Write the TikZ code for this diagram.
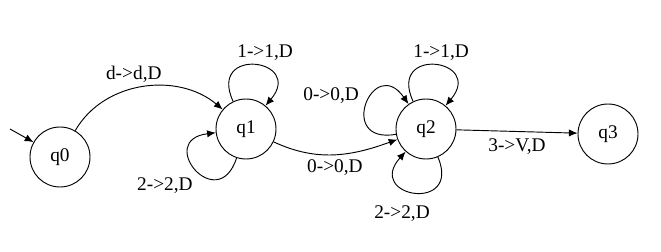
\documentclass[tikz,border=0pt]{standalone}
\usepackage{fontspec}
\setmainfont{Liberation Serif}
\usetikzlibrary{arrows.meta}
\begin{document}
\begin{tikzpicture}[node distance=135pt, auto, font=\fontsize{14.5}{17}\selectfont]
    % Define styles
    \tikzstyle{state} = [circle, minimum size=45pt, inner sep=0pt, draw=black, line width=0.7pt]
    \tikzstyle{arrow} = [->, >={Latex[length=6.5pt, width=5.5pt]}, line width=0.7pt]
    \tikzstyle{selfloop} = [arrow, distance=46pt]

    \useasboundingbox (0,0) rectangle (495.75pt,-189pt);

    % Place nodes
    \node (q0) [state] at (45pt,-117.75pt) {q0};
    \node (q1) [state, right of=q0, xshift=4.5pt, yshift=21pt] {q1};
    \node (q2) [state, right of=q1] {q2};
    \node (q3) [state, right of=q2, xshift=1.5pt, yshift=-3.75pt] {q3};
    \coordinate (start) at (7.5pt,-96.75pt);

    % Transitions between states
    \draw [arrow] (start) -- (q0);
    \draw [arrow] (q0) to[out=60, in=140] node[above, xshift=-7pt] {d->d,D} (q1);
    \draw [arrow] (q1) to[out=-25, in=200] node[below] {0->0,D} (q2);
    \draw [arrow] (q2) -- node[below, yshift=-2pt] {3->V,D} (q3);

    % Loops on q1 and q2
    \draw [selfloop] (q1) to[out=115, in=50] node[above, xshift=8pt] {1->1,D} (q1);
    \draw [selfloop] (q1) to[out=252, in=187] node[below left, xshift=1pt, yshift=-2pt] {2->2,D} (q1);
    \draw [selfloop] (q2) to[out=115, in=50] node[above, xshift=5pt] {1->1,D} (q2);
    \draw [selfloop] (q2) to[out=190, in=125] node[above left, xshift=-2pt, yshift=-3pt] {0->0,D} (q2);
    \draw [selfloop] (q2) to[out=293, in=228] node[below, xshift=-10pt, yshift=-6pt] {2->2,D} (q2);
\end{tikzpicture}
\end{document}
